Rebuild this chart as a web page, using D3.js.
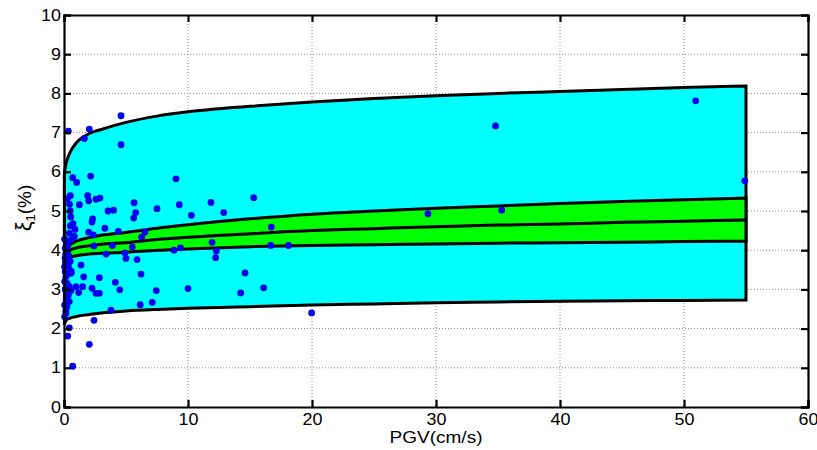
<!DOCTYPE html>
<html>
<head>
<meta charset="utf-8">
<script src="https://cdn.jsdelivr.net/npm/d3@7/dist/d3.min.js"></script>
<style>
  html, body { margin: 0; padding: 0; background: #fff; }
  svg text { font-family: "Liberation Sans", Arial, Helvetica, sans-serif; fill: #000; }
</style>
</head>
<body>
<svg id="chart" width="817" height="450"></svg>
<script>
// Axis ticks
const xTicks = [0, 10, 20, 30, 40, 50, 60];
const yTicks = [0, 1, 2, 3, 4, 5, 6, 7, 8, 9, 10];

// PGV sample positions shared by the envelope curves
const pgv = [0.03, 0.1, 0.2, 0.5, 1, 2, 3, 5, 7.5, 10, 15, 20, 25, 30, 35, 40, 45, 50, 55];
// Outer envelope (cyan band)
const outerUpper = [5.98, 6.1, 6.25, 6.5, 6.74, 6.97, 7.08, 7.26, 7.42, 7.53, 7.67, 7.78, 7.87, 7.94, 8.0, 8.05, 8.1, 8.15, 8.19];
const outerLower = [2.1, 2.17, 2.22, 2.27, 2.31, 2.36, 2.4, 2.45, 2.49, 2.52, 2.56, 2.6, 2.63, 2.66, 2.68, 2.7, 2.71, 2.72, 2.73];
// Inner band (green) and its central curve
const innerUpper = [3.94, 3.99, 4.04, 4.14, 4.23, 4.32, 4.38, 4.45, 4.56, 4.65, 4.8, 4.92, 5.0, 5.07, 5.13, 5.19, 5.24, 5.29, 5.33];
const innerMid   = [3.8, 3.86, 3.92, 4.0, 4.06, 4.11, 4.15, 4.19, 4.27, 4.33, 4.42, 4.5, 4.55, 4.6, 4.64, 4.67, 4.71, 4.74, 4.77];
const innerLower = [3.66, 3.72, 3.76, 3.82, 3.86, 3.9, 3.92, 3.95, 4.0, 4.03, 4.09, 4.12, 4.14, 4.16, 4.18, 4.19, 4.2, 4.22, 4.23];

// Observed records: PGV (cm/s) and damping ratio (%)
const obsPGV = [
  0.35, 2.04, 1.64, 4.6, 4.6,
  0.7, 1.02, 2.15, 0.51, 0.27, 1.24, 1.91, 1.99, 2.58, 2.9, 0.45, 0.5, 3.55, 4.0, 2.31, 2.26,
  0.51, 0.89, 0.43, 0.83, 1.99, 2.37, 3.3, 2.42, 4.38, 0.3, 0.59, 3.4, 3.9, 0.73, 0.54,
  9.03, 5.65, 5.78, 5.62, 7.5, 9.3, 10.27, 11.85, 12.88, 6.53, 6.26, 5.51, 4.9, 5.0, 5.89,
  8.87, 9.4, 11.94, 12.28, 12.23, 6.21, 4.5, 7.44, 10.0, 6.15, 7.12,
  15.3, 16.72, 16.67, 18.1, 14.6, 16.1, 14.25, 19.97, 29.35, 34.8, 35.3, 50.94, 54.9,
  0.56, 0.43, 0.97, 1.18, 1.5, 1.59, 2.26, 2.58, 2.85, 2.85, 4.14, 1.37, 0.56,
  2.42, 3.79, 2.04, 0.43, 0.3, 0.7, 0.16, 0.24, 0.43,
  0.05, 0.2, 0.1, 0.3, 0.15, 0.4, 0.08, 0.25, 0.5, 0.12, 0.35, 0.05, 0.2, 0.45, 0.1,
  0.3, 0.6, 0.15, 0.05, 0.25, 0.1, 0.35, 0.2, 0.05, 0.15, 0.05
];
const obsXi = [
  7.04, 7.09, 6.85, 7.43, 6.69,
  5.85, 5.73, 5.89, 5.39, 5.31, 5.16, 5.39, 5.26, 5.3, 5.33, 5.17, 5.0, 5.0, 5.02, 4.8, 4.72,
  4.62, 4.53, 4.43, 4.35, 4.46, 4.39, 4.56, 4.11, 4.48, 4.09, 4.26, 3.9, 4.12, 4.68, 4.85,
  5.82, 5.21, 4.96, 4.82, 5.06, 5.16, 4.89, 5.22, 4.96, 4.46, 4.33, 4.08, 3.93, 3.79, 3.76,
  4.0, 4.06, 4.2, 3.98, 3.81, 3.39, 2.99, 2.97, 3.02, 2.61, 2.67,
  5.34, 4.59, 4.12, 4.12, 3.42, 3.04, 2.91, 2.4, 4.93, 7.17, 5.02, 7.81, 5.77,
  2.97, 3.07, 3.07, 2.92, 3.07, 3.32, 3.03, 2.9, 2.9, 3.3, 3.18, 3.62, 3.41,
  2.21, 2.47, 1.6, 2.02, 1.81, 1.04, 2.39, 2.56, 2.69,
  4.28, 4.18, 4.05, 3.98, 3.9, 3.85, 3.8, 3.75, 3.72, 3.68, 3.62, 3.58, 3.55, 3.5, 3.45,
  3.4, 3.45, 3.32, 3.2, 3.15, 3.0, 2.85, 2.75, 2.6, 2.45, 2.3
];

const svg = d3.select("#chart");
const plotL = 64, plotR = 808, plotT = 15, plotB = 407;
const x = d3.scaleLinear().domain([0, 60]).range([plotL, plotR]);
const y = d3.scaleLinear().domain([0, 10]).range([plotB, plotT]);

// Grid (dotted)
const grid = svg.append("g");
grid.selectAll("line.gx").data(xTicks.slice(1, -1)).join("line")
  .attr("class", "gx")
  .attr("x1", d => x(d)).attr("x2", d => x(d))
  .attr("y1", plotT).attr("y2", plotB)
  .attr("stroke", "#8c8c8c").attr("stroke-width", 1).attr("stroke-dasharray", "1,2");
grid.selectAll("line.gy").data(yTicks.slice(1, -1)).join("line")
  .attr("class", "gy")
  .attr("y1", d => y(d)).attr("y2", d => y(d))
  .attr("x1", plotL).attr("x2", plotR)
  .attr("stroke", "#8c8c8c").attr("stroke-width", 1).attr("stroke-dasharray", "1,2");

const idx = d3.range(pgv.length);
const curve = d3.curveMonotoneX;

// Outer band
svg.append("path")
  .attr("d", d3.area().curve(curve)
    .x(i => x(pgv[i])).y0(i => y(outerLower[i])).y1(i => y(outerUpper[i]))(idx))
  .attr("fill", "#00ffff").attr("stroke", "#000").attr("stroke-width", 3);

// Inner band
svg.append("path")
  .attr("d", d3.area().curve(curve)
    .x(i => x(pgv[i])).y0(i => y(innerLower[i])).y1(i => y(innerUpper[i]))(idx))
  .attr("fill", "#00ff00").attr("stroke", "#000").attr("stroke-width", 3);

svg.append("path")
  .attr("d", d3.line().curve(curve).x(i => x(pgv[i])).y(i => y(innerMid[i]))(idx))
  .attr("fill", "none").attr("stroke", "#000").attr("stroke-width", 3);

// Observations
svg.append("g").selectAll("circle").data(d3.range(obsPGV.length)).join("circle")
  .attr("cx", i => x(obsPGV[i])).attr("cy", i => y(obsXi[i]))
  .attr("r", 3.4).attr("fill", "#0000f0");

// Axes with inward ticks on all four sides
const tickLen = 7;
const gB = svg.append("g").attr("transform", `translate(0,${plotB})`)
  .call(d3.axisBottom(x).tickValues(xTicks).tickSize(-tickLen).tickPadding(7));
gB.selectAll("text").attr("font-size", 16).attr("transform", "scale(1.12,1)");
const gT = svg.append("g").attr("transform", `translate(0,${plotT})`)
  .call(d3.axisTop(x).tickValues(xTicks).tickSize(-tickLen).tickFormat(""));
const gL = svg.append("g").attr("transform", `translate(${plotL},0)`)
  .call(d3.axisLeft(y).tickValues(yTicks).tickSize(-tickLen).tickPadding(3));
gL.selectAll("text").attr("font-size", 16)
  .attr("transform", "translate(-3,0) scale(1.12,1) translate(3,0)");
const gR = svg.append("g").attr("transform", `translate(${plotR},0)`)
  .call(d3.axisRight(y).tickValues(yTicks).tickSize(-tickLen).tickFormat(""));

[gB, gT, gL, gR].forEach(g => {
  g.attr("font-family", null).attr("font-size", null);
  g.select(".domain").attr("stroke", "#000").attr("stroke-width", 2.2);
  g.selectAll(".tick line").attr("stroke", "#000").attr("stroke-width", 2.2);
});

// Axis titles
svg.append("text")
  .attr("transform", "translate(436,443) scale(1.12,1)")
  .attr("text-anchor", "middle").attr("font-size", 17)
  .text("PGV(cm/s)");

const yl = svg.append("text")
  .attr("transform", "translate(31,208) rotate(-90)")
  .attr("text-anchor", "middle").attr("font-size", 19);
yl.append("tspan").attr("font-size", 22).text("ξ");
yl.append("tspan").attr("font-size", 13).attr("dy", 4).text("1");
yl.append("tspan").attr("dy", -4).text("(%)");
</script>
</body>
</html>
